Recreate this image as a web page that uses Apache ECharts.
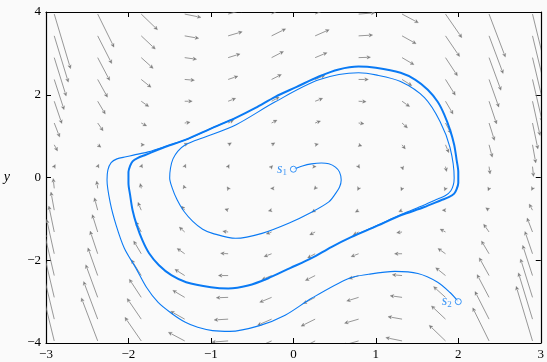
<!DOCTYPE html>
<html><head><meta charset="utf-8">
<script src="https://cdn.jsdelivr.net/npm/echarts@6/dist/echarts.min.js"></script>
<style>html,body{margin:0;padding:0;background:#fafafa}#c{width:547px;height:362px}</style>
</head><body><div id="c"></div>
<script>
// ---- data ----
const xTicks = [-3, -2, -1, 0, 1, 2, 3];
const yTicks = [-4, -2, 0, 2, 4];

// vector-field grid (arrow tails)
const arrowX = [-2.9, -2.373, -1.845, -1.318, -0.791, -0.264, 0.264, 0.791, 1.318, 1.845, 2.373, 2.9];
const arrowY = [3.95, 3.423, 2.897, 2.37, 1.843, 1.317, 0.79, 0.263, -0.263, -0.79, -1.317, -1.843, -2.37, -2.897, -3.423, -3.95];
// horizontal arrow component (same along each row)
const arrowDX = [0.198, 0.171, 0.145, 0.119, 0.092, 0.066, 0.040, 0.013, -0.013, -0.040, -0.066, -0.092, -0.119, -0.145, -0.171, -0.198];
// vertical arrow component, one row per arrowY value
const arrowDY = [
  [-1.32, -0.80, -0.38, -0.08, 0.11, 0.20, 0.17, 0.03, -0.21, -0.57, -1.04, -1.61],
  [-1.12, -0.67, -0.32, -0.06, 0.10, 0.17, 0.15, 0.02, -0.19, -0.50, -0.91, -1.41],
  [-0.93, -0.55, -0.26, -0.04, 0.09, 0.15, 0.12, 0.01, -0.17, -0.44, -0.79, -1.22],
  [-0.73, -0.43, -0.19, -0.02, 0.08, 0.12, 0.10, 0.00, -0.15, -0.38, -0.67, -1.02],
  [-0.54, -0.31, -0.13, 0.00, 0.07, 0.10, 0.07, -0.01, -0.13, -0.31, -0.55, -0.83],
  [-0.34, -0.19, -0.07, 0.02, 0.07, 0.07, 0.05, -0.02, -0.12, -0.25, -0.42, -0.63],
  [-0.15, -0.06, 0.00, 0.04, 0.05, 0.05, 0.02, -0.03, -0.10, -0.19, -0.30, -0.44],
  [0.05, 0.06, 0.06, 0.06, 0.05, 0.03, 0.00, -0.04, -0.08, -0.12, -0.18, -0.24],
  [0.24, 0.18, 0.12, 0.08, 0.04, 0.00, -0.03, -0.05, -0.06, -0.06, -0.06, -0.05],
  [0.44, 0.30, 0.19, 0.10, 0.03, -0.02, -0.05, -0.05, -0.04, 0.00, 0.06, 0.15],
  [0.63, 0.42, 0.25, 0.12, 0.02, -0.05, -0.07, -0.07, -0.02, 0.07, 0.19, 0.34],
  [0.83, 0.55, 0.31, 0.13, 0.01, -0.07, -0.10, -0.07, 0.00, 0.13, 0.31, 0.54],
  [1.02, 0.67, 0.38, 0.15, 0.00, -0.10, -0.12, -0.08, 0.02, 0.19, 0.43, 0.73],
  [1.22, 0.79, 0.44, 0.17, -0.01, -0.12, -0.15, -0.09, 0.04, 0.26, 0.55, 0.93],
  [1.41, 0.91, 0.50, 0.19, -0.02, -0.15, -0.17, -0.10, 0.06, 0.32, 0.67, 1.12],
  [1.61, 1.04, 0.57, 0.21, -0.03, -0.17, -0.20, -0.11, 0.08, 0.38, 0.80, 1.32]
];

// limit cycle (thick curve)
const cycleX = [-2.00,-2.00,-1.98,-1.95,-1.89,-1.79,-1.58,-1.31,-0.98,-0.70,-0.46,-0.22,0.04,0.31,0.55,0.79,1.00,1.30,1.48,1.63,1.75,1.83,1.90,1.95,1.98,2.00,
                2.00,2.00,1.98,1.95,1.89,1.79,1.58,1.31,0.98,0.70,0.46,0.22,-0.04,-0.31,-0.55,-0.79,-1.00,-1.30,-1.48,-1.63,-1.75,-1.83,-1.90,-1.95,-1.98,-2.00,-2.00];
const cycleY = [0.00,0.13,0.28,0.39,0.47,0.55,0.72,0.91,1.20,1.44,1.68,1.95,2.19,2.44,2.61,2.68,2.65,2.53,2.36,2.12,1.83,1.52,1.15,0.79,0.42,0.13,
                0.00,-0.13,-0.28,-0.39,-0.47,-0.55,-0.72,-0.91,-1.20,-1.44,-1.68,-1.95,-2.19,-2.44,-2.61,-2.68,-2.65,-2.53,-2.36,-2.12,-1.83,-1.52,-1.15,-0.79,-0.42,-0.13,0.00];

// trajectory from s1
const path1X = [0.00,0.11,0.22,0.34,0.43,0.51,0.56,0.58,0.56,0.50,0.43,0.22,-0.05,-0.38,-0.70,-0.98,-1.10,-1.22,-1.33,-1.41,-1.47,-1.50,-1.49,-1.46,-1.40,-1.31,-1.20,-1.07,-0.70,-0.22,0.31,0.79,1.00,1.30,1.59,1.78,1.90,1.95,1.94,1.91,1.85,1.75,1.58,1.31,0.98,0.70];
const path1Y = [0.20,0.28,0.33,0.35,0.33,0.25,0.13,-0.06,-0.23,-0.42,-0.59,-0.84,-1.10,-1.35,-1.47,-1.35,-1.25,-1.06,-0.81,-0.54,-0.25,-0.01,0.23,0.45,0.64,0.79,0.89,0.98,1.27,1.83,2.36,2.53,2.48,2.32,1.93,1.35,0.72,-0.01,-0.18,-0.32,-0.43,-0.52,-0.67,-0.89,-1.19,-1.43];

// trajectory from s2
const path2X = [2.00,1.90,1.75,1.51,1.23,0.91,0.67,0.22,-0.10,-0.41,-0.77,-0.98,-1.16,-1.31,-1.48,-1.64,-1.78,-1.91,-2.05,-2.15,-2.22,-2.26,-2.25,-2.21,-2.14,-2.03,-1.94,-1.76,-1.55,-1.31,-0.98,-0.70];
const path2Y = [-3.00,-2.78,-2.53,-2.32,-2.27,-2.34,-2.44,-2.92,-3.33,-3.58,-3.72,-3.70,-3.62,-3.50,-3.28,-3.02,-2.66,-2.19,-1.71,-1.15,-0.62,-0.06,0.18,0.36,0.45,0.50,0.54,0.62,0.75,0.91,1.20,1.44];

const startNames = ['1', '2'];
const startX = [0, 2];
const startY = [0.2, -3];

// ---- build chart ----
const BLUE = '#0a7af4';
const GREY = '#7d7d7d';
const FONT = '"Liberation Serif", "DejaVu Serif", serif';

const arrowData = [];
arrowY.forEach((y, j) => arrowX.forEach((x, i) => arrowData.push([x, y, arrowDX[j], arrowDY[j][i]])));
const zip = (a, b) => a.map((v, k) => [v, b[k]]);

const minus = v => String(v).replace('-', '\u2212');
const frameAxis = (extra) => Object.assign({
  axisLine: { onZero: false, lineStyle: { color: '#000', width: 1.2 } },
  axisTick: { inside: true, length: 5, lineStyle: { color: '#000' } },
  splitLine: { show: false }
}, extra);

const chart = echarts.init(document.getElementById('c'));
chart.setOption({
  backgroundColor: '#fafafa',
  animation: false,
  grid: { left: 46, right: 1, top: 12, bottom: 19, containLabel: false },
  xAxis: [
    frameAxis({ type: 'value', min: xTicks[0], max: xTicks[xTicks.length - 1], interval: 1, position: 'bottom',
      axisLabel: { formatter: minus, color: '#000', fontFamily: FONT, fontSize: 13, margin: 5 } }),
    frameAxis({ type: 'value', min: xTicks[0], max: xTicks[xTicks.length - 1], interval: 1, position: 'top',
      axisLabel: { show: false } })
  ],
  yAxis: [
    frameAxis({ type: 'value', min: yTicks[0], max: yTicks[yTicks.length - 1], interval: 2, position: 'left',
      name: 'y', nameLocation: 'middle', nameRotate: 0, nameGap: 36,
      nameTextStyle: { fontFamily: FONT, fontStyle: 'italic', fontSize: 14, color: '#000' },
      axisLabel: { formatter: minus, color: '#000', fontFamily: FONT, fontSize: 13, margin: 5 } }),
    frameAxis({ type: 'value', min: yTicks[0], max: yTicks[yTicks.length - 1], interval: 2, position: 'right',
      axisLabel: { show: false } })
  ],
  series: [
    {
      type: 'custom', clip: true, z: 1, silent: true,
      data: arrowData,
      renderItem: function (params, api) {
        const x = api.value(0), y = api.value(1), dx = api.value(2), dy = api.value(3);
        const p0 = api.coord([x, y]);
        const p1 = api.coord([x + dx, y + dy]);
        const vx = p1[0] - p0[0], vy = p1[1] - p0[1];
        const L = Math.sqrt(vx * vx + vy * vy) || 1e-6;
        const ux = vx / L, uy = vy / L;
        const hl = 3.6, hw = 1.7;
        const bx = p1[0] - ux * hl, by = p1[1] - uy * hl;
        const children = [];
        if (L > hl) {
          children.push({ type: 'line', shape: { x1: p0[0], y1: p0[1], x2: bx, y2: by },
            style: { stroke: GREY, lineWidth: 0.8 } });
        }
        children.push({ type: 'polygon', shape: { points: [
            [p1[0], p1[1]], [bx - uy * hw, by + ux * hw], [bx + ux * 0.8, by + uy * 0.8], [bx + uy * hw, by - ux * hw]] },
          style: { fill: GREY, stroke: GREY, lineWidth: 0.3 } });
        return { type: 'group', children: children };
      }
    },
    { type: 'line', data: zip(cycleX, cycleY), smooth: 0.3, showSymbol: false, z: 3,
      lineStyle: { color: BLUE, width: 2 } },
    { type: 'line', data: zip(path1X, path1Y), smooth: 0.3, showSymbol: false, z: 3,
      lineStyle: { color: BLUE, width: 1.1 } },
    { type: 'line', data: zip(path2X, path2Y), smooth: 0.3, showSymbol: false, z: 3,
      lineStyle: { color: BLUE, width: 1.1 } },
    { type: 'scatter', z: 4, symbol: 'circle', symbolSize: 6,
      itemStyle: { color: '#ffffff', borderColor: BLUE, borderWidth: 1 },
      data: startNames.map((n, k) => ({ value: [startX[k], startY[k]], name: n })),
      label: { show: true, position: 'left', distance: 3,
        formatter: p => '{s|s}{n|' + p.name + '}',
        rich: { s: { fontFamily: FONT, fontStyle: 'italic', fontSize: 14, color: BLUE },
                n: { fontFamily: FONT, fontSize: 9, color: BLUE, verticalAlign: 'bottom', padding: [6, 0, 0, 0] } } } }
  ]
});
</script></body></html>
